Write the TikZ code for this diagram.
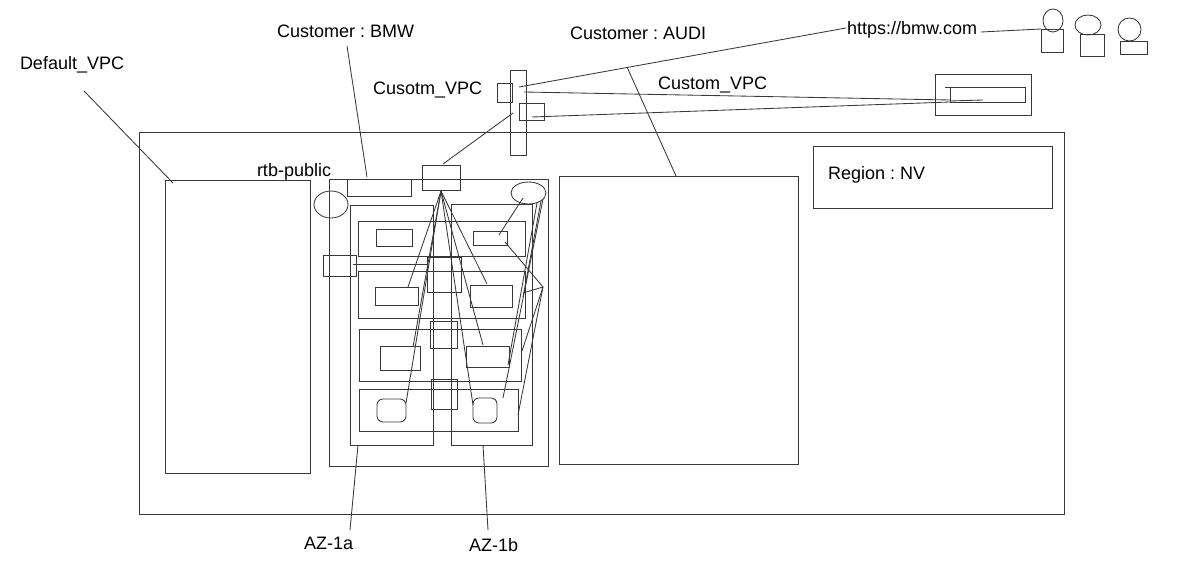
\documentclass[tikz,border=0pt]{standalone}
\usepackage{fontspec}
\setmainfont{Liberation Sans}
\usetikzlibrary{shapes,calc,fit}
\frenchspacing

\begin{document}
\begin{tikzpicture}[x=1pt,y=-1pt,line width=0.85pt,draw=black!78,
    box/.style={rectangle,draw,inner sep=0pt,outer sep=0pt},
    oval/.style={ellipse,draw,inner sep=0pt,outer sep=0pt},
    soft/.style={rectangle,rounded corners=6pt,draw,inner sep=0pt,outer sep=0pt},
    label/.style={anchor=west,inner sep=0pt,outer sep=0pt,text=black,font=\fontsize{18}{20}\selectfont}]

            \useasboundingbox (0,0) rectangle (1196,572);

            % region and the three vpcs
            \node[box,minimum width=925pt,minimum height=382pt] (region) at (601.5,323){};
            \node[box,minimum width=239pt,minimum height=62pt] (regionbox) at (932.5,177){};
            \node[box,minimum width=145pt,minimum height=293pt] (default) at (237.5,326.5){};
            \node[box,minimum width=219pt,minimum height=287pt] (bmw) at (438.5,322.5){};
            \node[box,minimum width=239pt,minimum height=288pt] (audi) at (678.5,320){};

            % parts at the top of bmw
            \node[box,minimum width=64pt,minimum height=17pt] (rtb) at (379,187.5){};
            \node[box,minimum width=38pt,minimum height=25pt] (igw) at (441,177.5){};
            \node[oval,minimum width=34pt,minimum height=27pt] (ovalleft) at (331,204.5){};
            \node[oval,minimum width=35pt,minimum height=22pt] (ovalright) at (528.5,193){};

            % zones
            \node[box,minimum width=83pt,minimum height=240pt] (aza) at (391.5,325){};
            \node[box,minimum width=81pt,minimum height=241pt] (azb) at (491.5,324.5){};

            % subnets
            \node[box,minimum width=167pt,minimum height=35pt] (rowa) at (441.5,238.5){};
            \node[box,minimum width=167pt,minimum height=47pt] (rowb) at (441.5,294.5){};
            \node[box,minimum width=162pt,minimum height=52pt] (rowc) at (440,355){};
            \node[box,minimum width=159pt,minimum height=42pt] (rowd) at (438.5,410){};

            % instances
            \node[box,minimum width=36pt,minimum height=17pt] (insta) at (394,237.5){};
            \node[box,minimum width=34pt,minimum height=14pt] (instb) at (490,238){};
            \node[box,minimum width=43pt,minimum height=18pt] (instc) at (396.5,296){};
            \node[box,minimum width=42pt,minimum height=22pt] (instd) at (491,296){};
            \node[box,minimum width=40pt,minimum height=24pt] (inste) at (400,358){};
            \node[box,minimum width=43pt,minimum height=21pt] (instf) at (487.5,356.5){};
            \node[soft,minimum width=29pt,minimum height=23pt] (instg) at (391.5,410.5){};
            \node[soft,minimum width=24pt,minimum height=25pt] (insth) at (485,410.5){};

            % boxes over the zones
            \node[box,minimum width=33pt,minimum height=21pt] (nat) at (339.5,265.5){};
            \node[box,minimum width=34pt,minimum height=35pt] (cross) at (444,274.5){};
            \node[box,minimum width=27pt,minimum height=27pt] (crossb) at (443.5,334.5){};
            \node[box,minimum width=26pt,minimum height=30pt] (crossc) at (444,394){};

            % peering bar and the far vpc
            \node[box,minimum width=16pt,minimum height=85pt] (bar) at (518,112.5){};
            \node[box,minimum width=15pt,minimum height=19pt] (barleft) at (504.5,92.5){};
            \node[box,minimum width=25pt,minimum height=17pt] (barright) at (531.5,111.5){};
            \node[box,minimum width=96pt,minimum height=41pt] (far) at (983,94.5){};
            \node[box,minimum width=75pt,minimum height=15pt] (farin) at (987.5,94.5){};

            % users
            \node[oval,minimum width=20pt,minimum height=23pt] (heada) at (1053,20.5){};
            \node[box,minimum width=22pt,minimum height=23pt] (bodya) at (1052,40.5){};
            \node[oval,minimum width=26pt,minimum height=20pt] (headb) at (1088,25){};
            \node[box,minimum width=24pt,minimum height=22pt] (bodyb) at (1092,45){};
            \node[oval,minimum width=23pt,minimum height=23pt] (headc) at (1129.5,29.5){};
            \node[box,minimum width=27pt,minimum height=13pt] (bodyc) at (1133.5,47.5){};

            % labels
            \node[label] (defaultlabel) at (20,65){Default\_VPC};
            \node[label] (bmwlabel) at (277,31){Customer : BMW};
            \node[label] (audilabel) at (570,33){Customer : AUDI};
            \node[label] (cusotmlabel) at (373,90){Cusotm\_VPC};
            \node[label] (customlabel) at (658,85){Custom\_VPC};
            \node[label] (rtblabel) at (257,172){rtb-public};
            \node[label] (urllabel) at (847,30){https://bmw.com};
            \node[label] (regionlabel) at (828,175){Region : NV};
            \node[label] (azalabel) at (304,543){AZ-1a};
            \node[label] (azblabel) at (469,545){AZ-1b};

            % free ends
            \coordinate (igwfoot) at (441,191);
            \coordinate (instcin) at (408,287);
            \coordinate (instein) at (413,347);
            \coordinate (instgin) at (406,403);
            \coordinate (instdin) at (487,284);
            \coordinate (instfin) at (483,345);
            \coordinate (insthin) at (473,405);
            \coordinate (ovalin) at (523,198);
            \coordinate (ovalfoota) at (537,203);
            \coordinate (ovalfootb) at (543,199);
            \coordinate (ovalfootc) at (541,201);
            \coordinate (instbin) at (499,235);
            \coordinate (instbout) at (505,242);
            \coordinate (hub) at (543,287);
            \coordinate (huba) at (523,293);
            \coordinate (hubb) at (522,351);
            \coordinate (hubc) at (518,415);
            \coordinate (hubd) at (523,297);
            \coordinate (fanf) at (508,365);
            \coordinate (fanh) at (503,398);
            \coordinate (natin) at (353,264);
            \coordinate (crossin) at (428,264);
            \coordinate (igwtop) at (443,164);
            \coordinate (barin) at (513,113);
            \coordinate (barup) at (519,87);
            \coordinate (baraa) at (524,92);
            \coordinate (barbb) at (532,117);
            \coordinate (urlleft) at (846,28);
            \coordinate (urlright) at (981,32);
            \coordinate (bodyin) at (1041,29);
            \coordinate (farina) at (950,100);
            \coordinate (farinb) at (950,102);
            \coordinate (farintopa) at (945,87);
            \coordinate (farintopb) at (981,87);
            \coordinate (farinlowa) at (950,101);
            \coordinate (farinlowb) at (983,100);
            \coordinate (bmwtail) at (347,46);
            \coordinate (bmwhead) at (367,177);
            \coordinate (audihead) at (627,67);
            \coordinate (auditail) at (676,176);
            \coordinate (defaulttail) at (84,91);
            \coordinate (defaulthead) at (173,183);
            \coordinate (azahead) at (358,445);
            \coordinate (azatail) at (350,530);
            \coordinate (azbhead) at (483,445);
            \coordinate (azbtail) at (488,530);

            \path[draw]
                (igwfoot) edge (instcin)
                (igwfoot) edge (instein)
                (igwfoot) edge (instgin)
                (igwfoot) edge (instdin)
                (igwfoot) edge (instfin)
                (igwfoot) edge (insthin)
                (ovalin) edge (instbin)
                (instbout) edge (hub)
                (hub) edge (huba)
                (hub) edge (hubb)
                (hub) edge (hubc)
                (ovalfootc) edge (hubd)
                (ovalfoota) edge (fanf)
                (ovalfootb) edge (fanh)
                (natin) edge (crossin)
                (igwtop) edge (barin)
                (barup) edge (urlleft)
                (urlright) edge (bodyin)
                (baraa) edge (farina)
                (barbb) edge (farinb)
                (farintopa) edge (farintopb)
                (farinlowa) edge (farinlowb)
                (bmwtail) edge (bmwhead)
                (audihead) edge (auditail)
                (defaulttail) edge (defaulthead)
                (azahead) edge (azatail)
                (azbhead) edge (azbtail)
            ;
        \end{tikzpicture}
\end{document}
